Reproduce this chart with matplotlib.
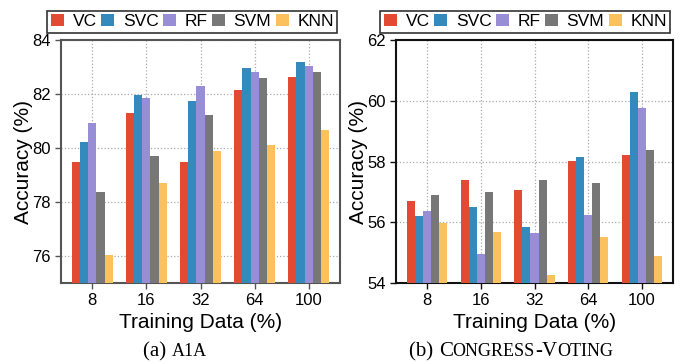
import numpy as np
import matplotlib
matplotlib.use("Agg")
import matplotlib.pyplot as plt

plt.rcParams['font.family'] = ['Liberation Sans', 'DejaVu Sans']

# data
groups = ['8', '16', '32', '64', '100']
methods = ['VC', 'SVC', 'RF', 'SVM', 'KNN']
colors = ['#E24A33', '#348ABD', '#988ED5', '#777777', '#FBC15E']

a1a = {
    'VC':  [79.47, 81.31, 79.50, 82.13, 82.64],
    'SVC': [80.23, 81.97, 81.75, 82.97, 83.19],
    'RF':  [80.91, 81.86, 82.30, 82.83, 83.04],
    'SVM': [78.36, 79.69, 81.23, 82.60, 82.82],
    'KNN': [76.05, 78.69, 79.90, 80.12, 80.68],
}
congress = {
    'VC':  [56.71, 57.40, 57.06, 58.03, 58.20],
    'SVC': [56.19, 56.50, 55.83, 58.16, 60.28],
    'RF':  [56.38, 54.97, 55.66, 56.25, 59.76],
    'SVM': [56.91, 57.00, 57.40, 57.30, 58.39],
    'KNN': [55.96, 55.69, 54.27, 55.53, 54.90],
}

fig = plt.figure(figsize=(6.83, 3.64), dpi=100)
ax1 = fig.add_axes([61/683, 81/364, 279/683, 243/364])
ax2 = fig.add_axes([396/683, 81/364, 277/683, 243/364])

width = 0.15
x = np.arange(len(groups))


def draw(ax, data, ylim, yticks, spine_color):
    for i, m in enumerate(methods):
        ax.bar(x + (i - 2) * width, data[m], width, color=colors[i],
               label=m, zorder=3)
    ax.set_xlim(-0.58, 4.58)
    ax.set_ylim(*ylim)
    ax.set_yticks(yticks)
    ax.set_xticks(x)
    ax.set_xticklabels(groups)
    ax.grid(True, linestyle=':', color='#aaaaaa', linewidth=0.9, zorder=0)
    ax.set_axisbelow(True)
    for s in ax.spines.values():
        s.set_color(spine_color)
        s.set_linewidth(1.5)
    ax.tick_params(labelsize=12, length=4, width=1, color=spine_color)
    ax.set_xlabel('Training Data (%)', fontsize=15, labelpad=3)
    ax.set_ylabel('Accuracy (%)', fontsize=15, labelpad=-1)
    leg = ax.legend(ncol=5, loc='lower right', bbox_to_anchor=(0.99, 1.03),
                    fontsize=12.5, handlelength=0.75, handleheight=0.7,
                    handletextpad=0.5, columnspacing=0.25, borderpad=0.2,
                    borderaxespad=0, fancybox=False, framealpha=1)
    leg.get_frame().set_edgecolor('#333333')
    leg.get_frame().set_linewidth(1.2)


draw(ax1, a1a, (75, 84), [76, 78, 80, 82, 84], '#555555')
draw(ax2, congress, (54, 62), [54, 56, 58, 60, 62], '#111111')


# captions with small caps, built from pieces
def caption(pieces, xc, y):
    fig.canvas.draw()
    r = fig.canvas.get_renderer()
    texts = []
    for s, size in pieces:
        t = fig.text(0, y, s, fontsize=size, family='Liberation Serif',
                     va='baseline', ha='left')
        texts.append(t)
    ws = [t.get_window_extent(r).width for t in texts]
    total = sum(ws)
    px = xc * fig.bbox.width - total / 2
    for t, w in zip(texts, ws):
        t.set_x(px / fig.bbox.width)
        px += w


caption([('(a) ', 15), ('A1A', 13)], 175/683, 8/364)
caption([('(b) ', 15), ('C', 15), ('ONGRESS', 13), ('-', 15), ('V', 15),
         ('OTING', 13)], 511/683, 8/364)

fig.savefig('out.png', dpi=100)
